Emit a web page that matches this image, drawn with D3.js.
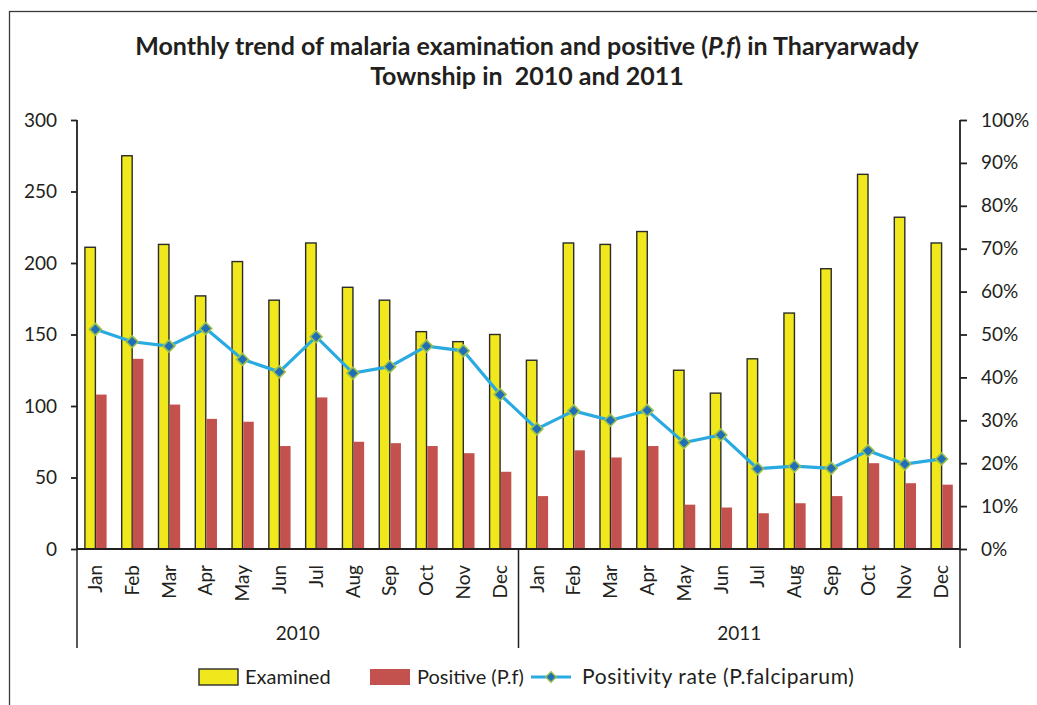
<!DOCTYPE html>
<html>
<head>
<meta charset="utf-8">
<script src="https://cdn.jsdelivr.net/npm/d3@7"></script>
<style>
  body { margin: 0; background: #fff; }
  text { font-family: Lato, "Open Sans", sans-serif; fill: #231f20; }
</style>
</head>
<body>
<div id="chart"></div>
<script>
var months = ['Jan','Feb','Mar','Apr','May','Jun','Jul','Aug','Sep','Oct','Nov','Dec'];
var years = ['2010', '2011'];
var examined = [211,275,213,177,201,174,214,183,174,152,145,150,
                132,214,213,222,125,109,133,165,196,262,232,214];
var positive = [108,133,101,91,89,72,106,75,74,72,67,54,
                37,69,64,72,31,29,25,32,37,60,46,45];
var rate = [51.2,48.3,47.3,51.4,44.2,41.3,49.5,41.0,42.5,47.3,46.2,36.0,
            28.0,32.2,30.0,32.3,24.8,26.6,18.7,19.3,18.8,22.9,19.8,21.0];
var leftTicks = [0,50,100,150,200,250,300];
var rightTicks = [0,10,20,30,40,50,60,70,80,90,100];

var W = 1037, H = 705;
var margin = {top: 120, left: 77, right: 77, bottom: 156};
var width = 960 - margin.left;
var height = 549 - margin.top;

var rows = [];
years.forEach(function(y) {
  months.forEach(function(m) { rows.push({key: y + '-' + m, month: m, year: y}); });
});
rows.forEach(function(d, i) {
  d.examined = examined[i];
  d.positive = positive[i];
  d.rate = rate[i];
});

var svg = d3.select('#chart').append('svg')
  .attr('width', W)
  .attr('height', H);

// outer frame
svg.append('rect')
  .attr('x', 9.5).attr('y', 11.5)
  .attr('width', 1100).attr('height', 800)
  .attr('fill', 'none').attr('stroke', '#3a3a3a').attr('stroke-width', 1.3);

svg.append('text')
  .attr('x', 527).attr('y', 55)
  .attr('text-anchor', 'middle')
  .style('font-size', '25px').style('font-weight', 'bold')
  .html('Monthly trend of malaria examination and positive (<tspan font-style="italic">P.f</tspan>) in Tharyarwady');
svg.append('text')
  .attr('x', 527).attr('y', 85)
  .attr('text-anchor', 'middle')
  .style('font-size', '25px').style('font-weight', 'bold')
  .attr('xml:space', 'preserve')
  .text('Township in  2010 and 2011');

var g = svg.append('g')
  .attr('transform', 'translate(' + margin.left + ',' + margin.top + ')');

var x = d3.scaleBand()
  .domain(rows.map(function(d) { return d.key; }))
  .range([0, width]);
var y = d3.scaleLinear().domain([0, 300]).range([height, 0]);
var y2 = d3.scaleLinear().domain([0, 100]).range([height, 0]);

var barW = 10.5;

g.selectAll('.exam')
  .data(rows)
  .enter().append('rect')
  .attr('class', 'exam')
  .attr('x', function(d) { return x(d.key) + x.bandwidth() / 2 - barW; })
  .attr('y', function(d) { return y(d.examined); })
  .attr('width', barW)
  .attr('height', function(d) { return height - y(d.examined); })
  .attr('fill', '#f0e81c')
  .attr('stroke', '#2b2b2b')
  .attr('stroke-width', 1.4);

g.selectAll('.pos')
  .data(rows)
  .enter().append('rect')
  .attr('class', 'pos')
  .attr('x', function(d) { return x(d.key) + x.bandwidth() / 2 + 0.7; })
  .attr('y', function(d) { return y(d.positive); })
  .attr('width', barW)
  .attr('height', function(d) { return height - y(d.positive); })
  .attr('fill', '#c3514e');

// left axis
var yAxis = g.append('g')
  .call(d3.axisLeft(y).tickValues(leftTicks).tickSize(6).tickPadding(14));
yAxis.select('.domain').attr('d', 'M0,0V' + height);
// right axis
var y2Axis = g.append('g')
  .attr('transform', 'translate(' + width + ',0)')
  .call(d3.axisRight(y2).tickValues(rightTicks).tickSize(7).tickPadding(14)
    .tickFormat(function(d) { return d + '%'; }));
y2Axis.select('.domain').attr('d', 'M0,0V' + height);
[yAxis, y2Axis].forEach(function(a) {
  a.selectAll('path, line').attr('stroke', '#231f20').attr('stroke-width', 1.8);
  a.selectAll('text').style('font-size', '19px').attr('fill', '#231f20')
    .style('font-family', 'Lato, sans-serif');
});

// x axis
var xAxis = g.append('g')
  .attr('transform', 'translate(0,' + height + ')')
  .call(d3.axisBottom(x).tickSize(0).tickFormat(function(k) { return k.split('-')[1]; }));
xAxis.select('.domain').attr('d', 'M0,0H' + width).attr('stroke', '#231f20').attr('stroke-width', 2.2);
xAxis.selectAll('text')
  .style('font-size', '19px')
  .style('font-family', 'Lato, sans-serif')
  .attr('fill', '#231f20')
  .attr('text-anchor', 'end')
  .attr('transform', 'rotate(-90)')
  .attr('x', -16).attr('y', 0).attr('dy', '0.35em');

// year group separators
var sepX = [0, x(years[1] + '-Jan'), width];
g.selectAll('.sep')
  .data(sepX)
  .enter().append('line')
  .attr('class', 'sep')
  .attr('x1', function(d) { return d; }).attr('x2', function(d) { return d; })
  .attr('y1', height).attr('y2', height + 99)
  .attr('stroke', '#231f20').attr('stroke-width', 1.5);

g.selectAll('.year')
  .data(years)
  .enter().append('text')
  .attr('class', 'year')
  .attr('x', function(d) { return x(d + '-Jan') + x.bandwidth() * 6; })
  .attr('y', height + 91)
  .attr('text-anchor', 'middle')
  .style('font-size', '19px')
  .text(function(d) { return d; });

// positivity line
var line = d3.line()
  .x(function(d) { return x(d.key) + x.bandwidth() / 2; })
  .y(function(d) { return y2(d.rate); });
g.append('path')
  .datum(rows)
  .attr('d', line)
  .attr('fill', 'none')
  .attr('stroke', '#29aae1')
  .attr('stroke-width', 3.2);

var diamond = d3.symbol().type(d3.symbolDiamond2).size(90);
g.selectAll('.mk')
  .data(rows)
  .enter().append('path')
  .attr('class', 'mk')
  .attr('d', diamond)
  .attr('transform', function(d) {
    return 'translate(' + (x(d.key) + x.bandwidth() / 2) + ',' + y2(d.rate) + ')';
  })
  .attr('fill', '#1f6fb8')
  .attr('stroke', '#9cbf4a')
  .attr('stroke-width', 1.6);

// legend
var leg = svg.append('g').attr('transform', 'translate(0,677)');
leg.append('rect')
  .attr('x', 199).attr('y', -8).attr('width', 39).attr('height', 16)
  .attr('fill', '#f0e81c').attr('stroke', '#2b2b2b').attr('stroke-width', 1.4);
leg.append('text').attr('x', 245).attr('y', 0).attr('dy', '0.35em')
  .style('font-size', '20px').text('Examined');
leg.append('rect')
  .attr('x', 370).attr('y', -8).attr('width', 40).attr('height', 16)
  .attr('fill', '#c3514e');
leg.append('text').attr('x', 417).attr('y', 0).attr('dy', '0.35em')
  .style('font-size', '20px').text('Positive (P.f)');
leg.append('line')
  .attr('x1', 531).attr('x2', 571).attr('y1', 0).attr('y2', 0)
  .attr('stroke', '#29aae1').attr('stroke-width', 3.2);
leg.append('path')
  .attr('d', d3.symbol().type(d3.symbolDiamond2).size(70))
  .attr('transform', 'translate(551,0)')
  .attr('fill', '#1f6fb8').attr('stroke', '#9cbf4a').attr('stroke-width', 1.4);
leg.append('text').attr('x', 582).attr('y', 0).attr('dy', '0.35em')
  .style('font-size', '21px').style('letter-spacing', '0.6px')
  .text('Positivity rate (P.falciparum)');
</script>
</body>
</html>
